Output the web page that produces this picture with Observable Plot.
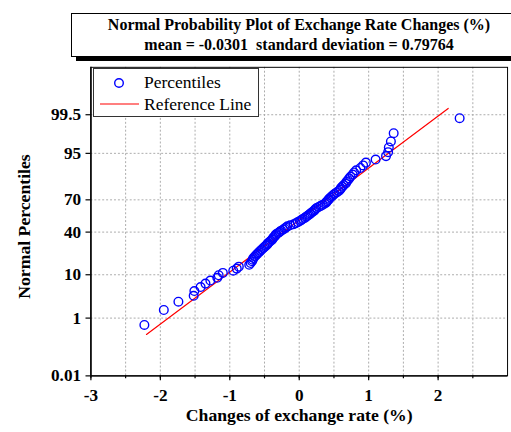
<!DOCTYPE html>
<html><head><meta charset="utf-8">
<script src="https://cdn.jsdelivr.net/npm/d3@7"></script>
<script src="https://cdn.jsdelivr.net/npm/@observablehq/plot@0.6"></script>
<style>
html,body{margin:0;padding:0;background:#fff;overflow:hidden;width:511px;height:432px}
#wrap{position:relative;width:511px;height:432px;overflow:hidden}
#wrap svg.plot{position:absolute;left:0;top:0}
#title{position:absolute;left:71px;top:13px;width:456px;height:44px;border:1px solid #000;background:#fff;box-shadow:5px 4px 0 #000;font:bold 16px "Liberation Serif",serif;text-align:center;line-height:20px;box-sizing:border-box;padding-top:1px;z-index:2}
#legend{position:absolute;left:93px;top:68px;width:166px;height:49px;border:1px solid #333;background:#fff;font:17.5px "Liberation Serif",serif;box-sizing:border-box;z-index:2}
#legend .it{position:absolute;left:50px;white-space:nowrap;line-height:normal}
#legend svg{position:absolute;left:0;top:0}
</style></head>
<body>
<div id="wrap">
  <div id="title"></div>
  <div id="legend"></div>
</div>
<script>
// ---- data ----
const titleLines = ["Normal Probability Plot of Exchange Rate Changes (%)", "mean = -0.0301  standard deviation = 0.79764"];
const meanVal = -0.0301;
const sdVal = 0.79764;
// sorted exchange-rate changes (%), one per plotted circle
const changes = [
  -2.23, -1.95, -1.74, -1.52, -1.51, -1.42, -1.35, -1.28, -1.18, -1.16,
  -1.10, -0.95, -0.90, -0.87, -0.72, -0.70, -0.68, -0.67, -0.66, -0.64,
  -0.62, -0.60, -0.58, -0.56, -0.54, -0.52, -0.50, -0.48, -0.46, -0.45,
  -0.43, -0.41, -0.39, -0.38, -0.37, -0.35, -0.34, -0.33, -0.30, -0.28,
  -0.26, -0.23, -0.21, -0.19, -0.17, -0.13, -0.08, -0.05, -0.02, 0.01,
  0.03, 0.05, 0.08, 0.10, 0.12, 0.14, 0.16, 0.18, 0.20, 0.22,
  0.23, 0.25, 0.28, 0.31, 0.34, 0.37, 0.39, 0.40, 0.42, 0.43,
  0.45, 0.47, 0.49, 0.51, 0.54, 0.57, 0.59, 0.60, 0.62, 0.64,
  0.67, 0.68, 0.70, 0.72, 0.74, 0.77, 0.79, 0.82, 0.88, 0.92,
  0.96, 1.10, 1.25, 1.28, 1.29, 1.32, 1.36, 2.31
];
const refLineX = [-2.2, 2.145];
const xTickValues = [-3, -2, -1, 0, 1, 2];
const xMinorTicks = [-3, -2.5, -2, -1.5, -1, -0.5, 0, 0.5, 1, 1.5, 2, 2.5];
const xDomain = [-3, 3];
const yTickPercents = [0.01, 1, 10, 40, 70, 95, 99.5];
const yTickLabels = ["0.01", "1", "10", "40", "70", "95", "99.5"];
const legendLabels = ["Percentiles", "Reference Line"];
const xLabel = "Changes of exchange rate (%)";
const yLabel = "Normal Percentiles";

// inverse standard normal CDF (Acklam)
function qnorm(p) {
  const a=[-3.969683028665376e+01,2.209460984245205e+02,-2.759285104469687e+02,1.383577518672690e+02,-3.066479806614716e+01,2.506628277459239e+00];
  const b=[-5.447609879822406e+01,1.615858368580409e+02,-1.556989798598866e+02,6.680131188771972e+01,-1.328068155288572e+01];
  const c=[-7.784894002430293e-03,-3.223964580411365e-01,-2.400758277161838e+00,-2.549732539343734e+00,4.374664141464968e+00,2.938163982698783e+00];
  const d=[7.784695709041462e-03,3.224671290700398e-01,2.445134137142996e+00,3.754408661907416e+00];
  const pl=0.02425;
  if (p < pl) { const q=Math.sqrt(-2*Math.log(p)); return (((((c[0]*q+c[1])*q+c[2])*q+c[3])*q+c[4])*q+c[5])/((((d[0]*q+d[1])*q+d[2])*q+d[3])*q+1); }
  if (p > 1-pl) { const q=Math.sqrt(-2*Math.log(1-p)); return -(((((c[0]*q+c[1])*q+c[2])*q+c[3])*q+c[4])*q+c[5])/((((d[0]*q+d[1])*q+d[2])*q+d[3])*q+1); }
  const q=p-0.5, r=q*q;
  return (((((a[0]*r+a[1])*r+a[2])*r+a[3])*r+a[4])*r+a[5])*q/(((((b[0]*r+b[1])*r+b[2])*r+b[3])*r+b[4])*r+1);
}

const n = changes.length;
const points = changes.map((v, i) => ({x: v, z: qnorm((i + 1 - 0.375) / (n + 0.25))}));
const refLine = refLineX.map(x => ({x, z: (x - meanVal) / sdVal}));
const yTicksZ = yTickPercents.map(p => qnorm(p / 100));
const zMax = -qnorm(0.0001);

const font = "'Liberation Serif', 'Times New Roman', serif";

const chart = Plot.plot({
  width: 520, height: 432,
  marginLeft: 92, marginRight: 4, marginTop: 68, marginBottom: 50,
  style: {fontFamily: font, fontSize: "17px", fontWeight: "bold", color: "#000", background: "transparent"},
  x: {domain: xDomain, label: null},
  y: {domain: [-zMax, zMax], label: null},
  marks: [
    Plot.gridX(xMinorTicks.filter(d => d > -3), {stroke: "#aaa", strokeOpacity: 1, strokeDasharray: "2,2"}),
    Plot.gridY(yTicksZ.slice(1), {stroke: "#aaa", strokeOpacity: 1, strokeDasharray: "2,2"}),
    Plot.frame({stroke: "#000", strokeWidth: 1}),
    Plot.axisX(xMinorTicks, {tickSize: 3, tickFormat: () => "", stroke: "#000", strokeWidth: 1.2}),
    Plot.axisX(xTickValues, {tickSize: 5, tickPadding: 8, tickFormat: d => String(d), stroke: "#000", strokeWidth: 1.2, fontSize: 17.5, fontWeight: "bold"}),
    Plot.axisY(yTicksZ, {tickSize: 5, tickPadding: 5, tickFormat: (d, i) => yTickLabels[i], stroke: "#000", strokeWidth: 1.2, fontSize: 17.5, fontWeight: "bold"}),
    Plot.ruleX([xDomain[0]], {stroke: "#000", strokeWidth: 1.5}),
    Plot.ruleY([-zMax], {stroke: "#000", strokeWidth: 1.5}),
    Plot.line(refLine, {x: "x", y: "z", stroke: "#ff0000", strokeWidth: 1.2}),
    Plot.dot(points, {x: "x", y: "z", r: 4.4, stroke: "#0000ff", strokeWidth: 1.4, fill: "none"}),
    Plot.text([yLabel], {frameAnchor: "left", textAnchor: "middle", lineAnchor: "middle", rotate: -90, dx: -68, dy: 5, fontSize: 18, fontWeight: "bold", fill: "#000"}),
    Plot.text([xLabel], {frameAnchor: "bottom", textAnchor: "middle", lineAnchor: "middle", dy: 40, fontSize: 18, fontWeight: "bold", fill: "#000"})
  ]
});
chart.classList.add("plot");
document.getElementById("wrap").prepend(chart);

document.getElementById("title").innerHTML = titleLines.map(t => `<div style="white-space:pre">${t}</div>`).join("");

const leg = document.getElementById("legend");
leg.innerHTML = `<svg width="166" height="49">
  <circle cx="25" cy="14" r="4.3" fill="none" stroke="#0000ff" stroke-width="1.4"></circle>
  <line x1="6" x2="45" y1="35" y2="35" stroke="#ff0000" stroke-width="1.2"></line>
</svg>
<div class="it" style="top:3px">${legendLabels[0]}</div>
<div class="it" style="top:25px">${legendLabels[1]}</div>`;
</script>
</body></html>
